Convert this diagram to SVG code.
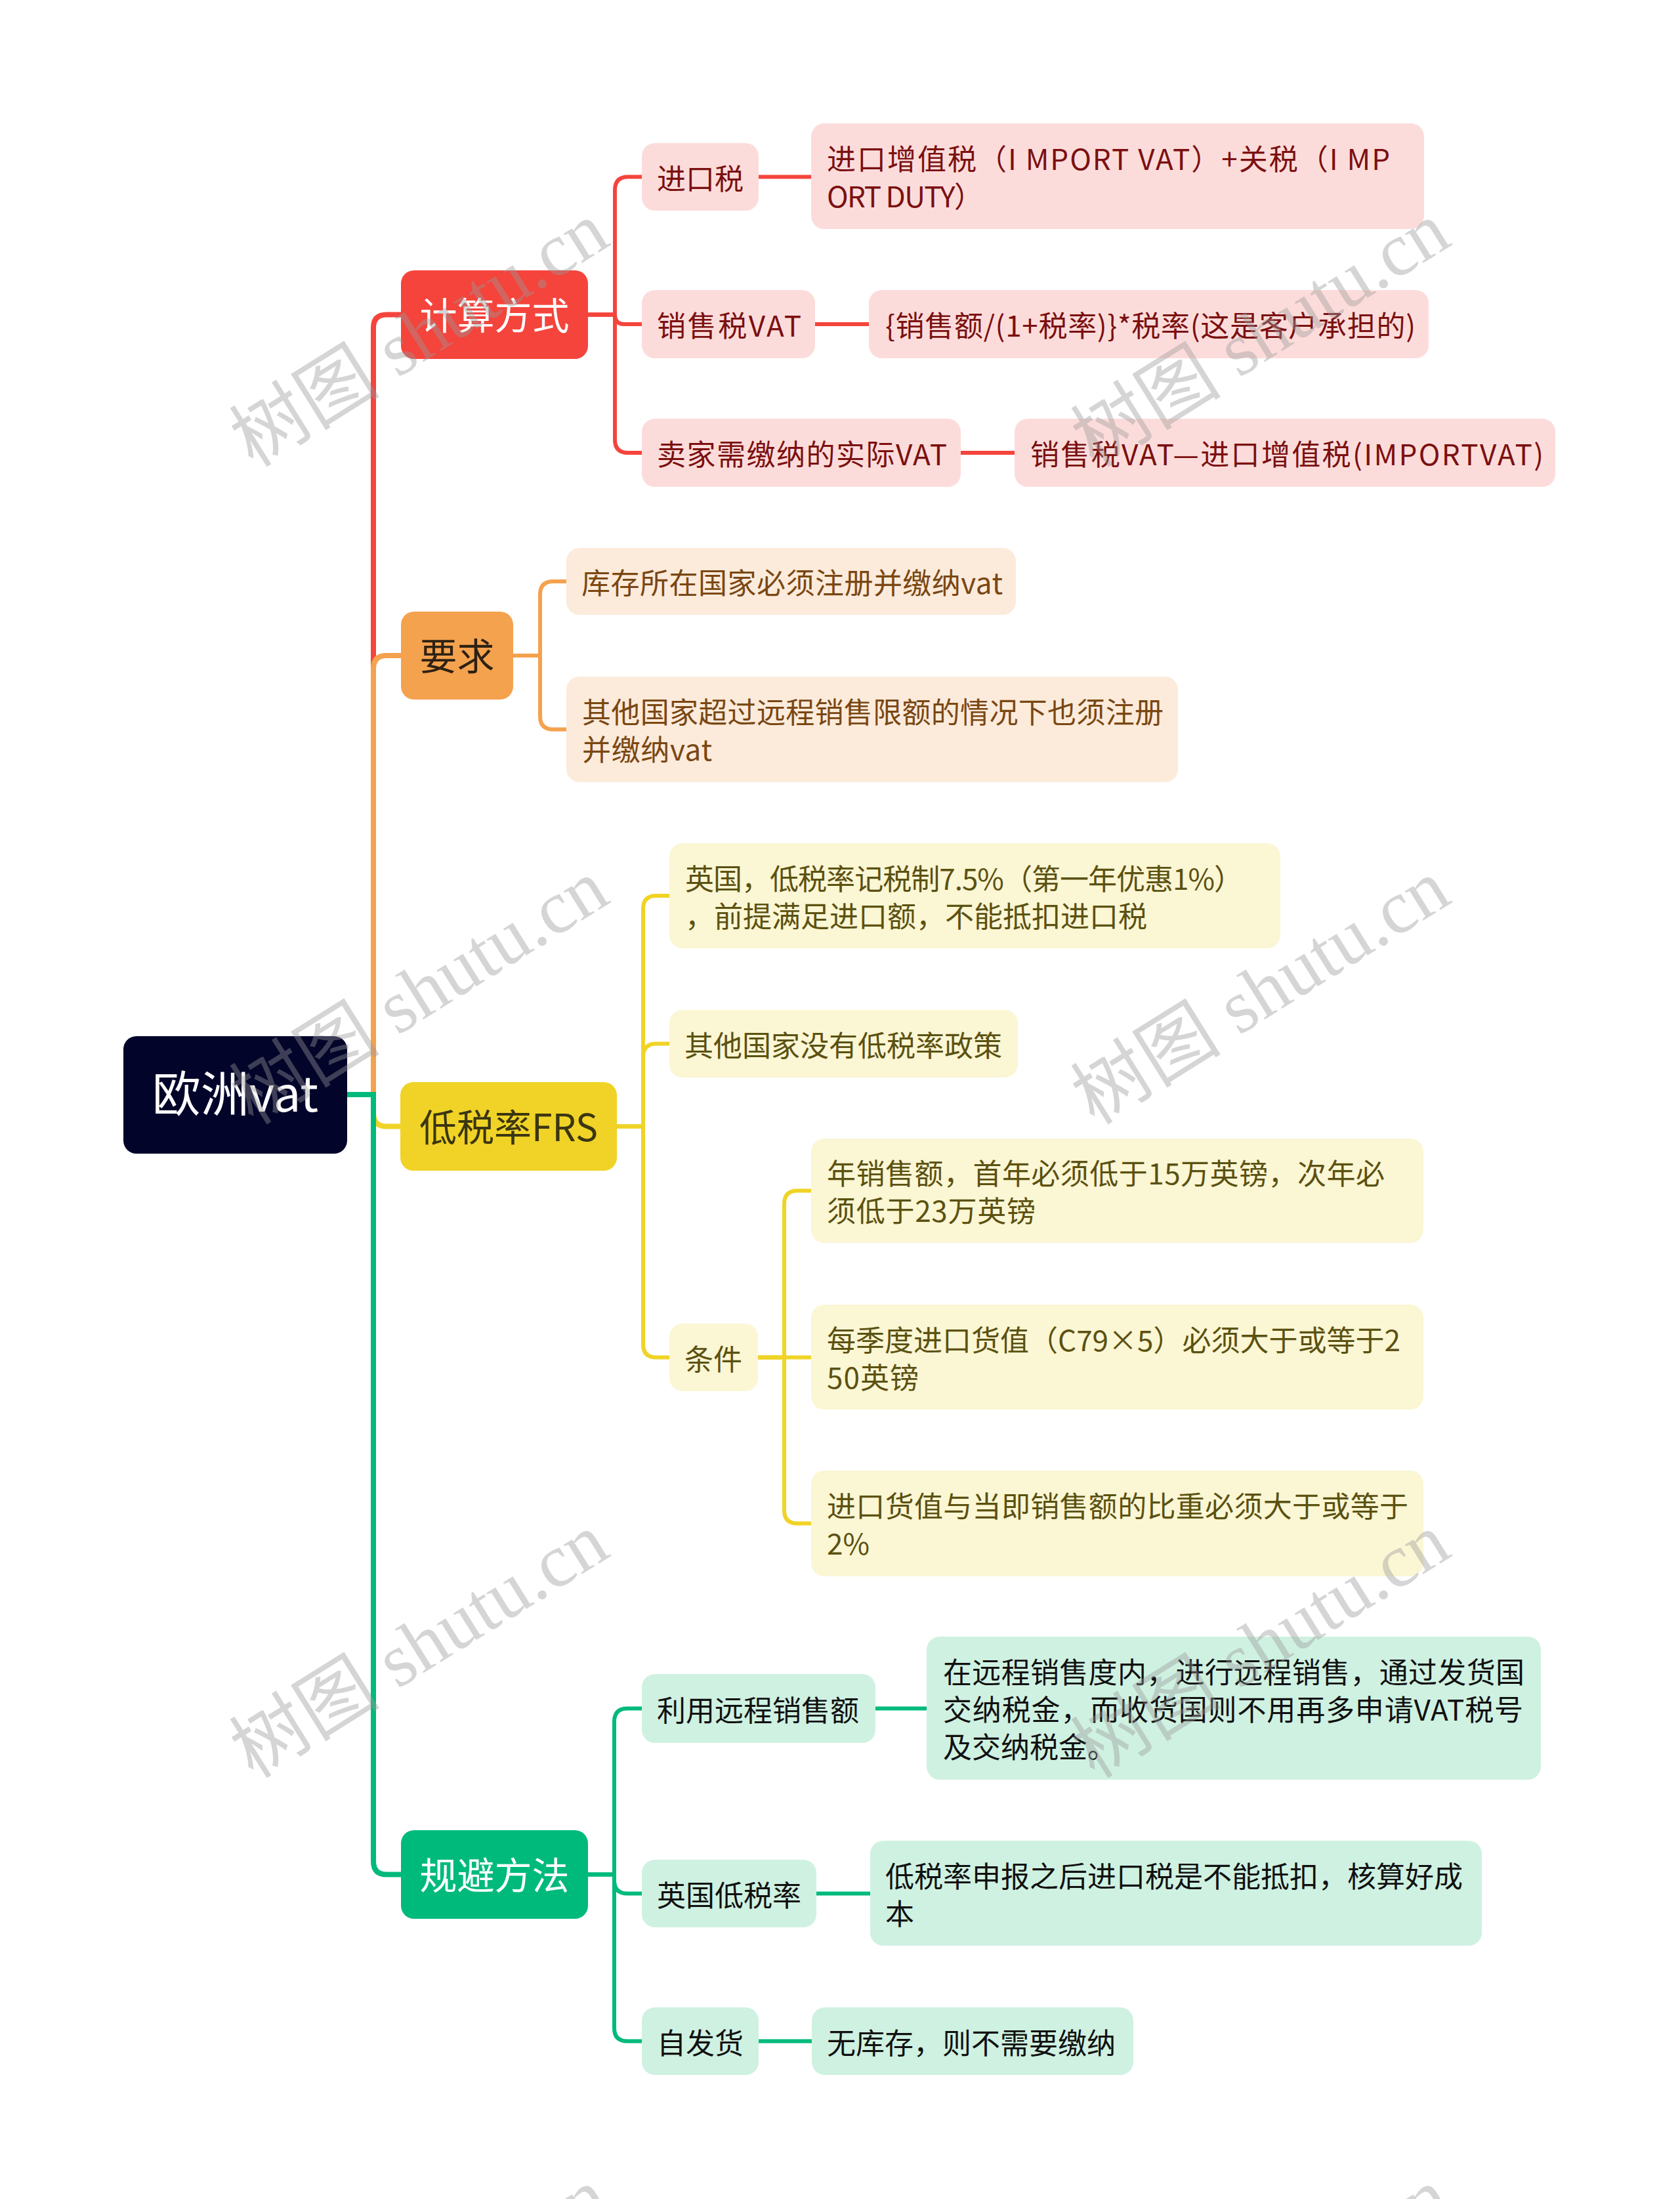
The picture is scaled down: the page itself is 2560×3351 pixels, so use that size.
<svg xmlns="http://www.w3.org/2000/svg" width="2560" height="3351" viewBox="0 0 2560 3351">
<style>
text{font-family:"Noto Sans CJK SC","Noto Sans",sans-serif}
.t0{font-size:74px;fill:#fff;text-anchor:middle}
.t1{font-size:57px;text-anchor:middle}
.t2{font-size:44px}
.cr{fill:none;stroke:#F4443C}
.co{fill:none;stroke:#F4A24E}
.cy{fill:none;stroke:#F0D326}
.cg{fill:none;stroke:#00BA7B}
.root{stroke-width:8}
.br{stroke-width:6}
.rr{fill:#FCDCDB}.rt{fill:#7B1010}
.oo{fill:#FCEBDB}.ot{fill:#7A4713}
.yy{fill:#FBF6D4}.yt{fill:#5B5111}
.gg{fill:#CFF1E2}.gt{fill:#111111}
.wm{font-family:"Liberation Serif","Noto Sans CJK SC",serif;font-size:115px;fill:#999;opacity:.4;text-anchor:middle}
</style>
<rect width="2560" height="3351" fill="#fff"/>
<g id="connectors" stroke-linecap="butt">
<path class="cr root" d="M529 1668 H569 V499.5 Q569 479.5 589 479.5 H611"/>
<path class="co root" d="M529 1668 H569 V1019 Q569 999 589 999 H611"/>
<path class="cy root" d="M529 1668 H569 V1696.5 Q569 1716.5 589 1716.5 H610"/>
<path class="cg root" d="M529 1668 H569 V2836.5 Q569 2856.5 589 2856.5 H611"/>
<path class="cr br" d="M896 479.5 H937 V289.5 Q937 269.5 957 269.5 H978"/>
<path class="cr br" d="M896 479.5 H937 Q937 494 951.5 494 H978"/>
<path class="cr br" d="M896 479.5 H937 V670 Q937 690 957 690 H978"/>
<path class="cr br" d="M1156 269.5 H1236"/>
<path class="cr br" d="M1242 494 H1324"/>
<path class="cr br" d="M1464 690 H1546"/>
<path class="co br" d="M782 999 H823 V906 Q823 886 843 886 H863"/>
<path class="co br" d="M782 999 H823 V1091.5 Q823 1111.5 843 1111.5 H863"/>
<path class="cy br" d="M940 1716.5 H980 V1385 Q980 1365 1000 1365 H1020"/>
<path class="cy br" d="M940 1716.5 H980 V1610.5 Q980 1590.5 1000 1590.5 H1020"/>
<path class="cy br" d="M940 1716.5 H980 V2048.5 Q980 2068.5 1000 2068.5 H1020"/>
<path class="cy br" d="M1155 2068.5 H1195 V1834.5 Q1195 1814.5 1215 1814.5 H1236"/>
<path class="cy br" d="M1155 2068.5 H1236"/>
<path class="cy br" d="M1155 2068.5 H1195 V2301.5 Q1195 2321.5 1215 2321.5 H1236"/>
<path class="cg br" d="M896 2856.5 H936 V2623.5 Q936 2603.5 956 2603.5 H978"/>
<path class="cg br" d="M896 2856.5 H936 V2865.5 Q936 2885.5 956 2885.5 H978"/>
<path class="cg br" d="M896 2856.5 H936 V3090.5 Q936 3110.5 956 3110.5 H978"/>
<path class="cg br" d="M1334 2603.5 H1412"/>
<path class="cg br" d="M1244 2885.5 H1326"/>
<path class="cg br" d="M1156 3110.5 H1237"/>
</g>
<g id="root"><rect x="188" y="1579" width="341" height="179" rx="20" fill="#02042A"/><text class="t0" x="358.5" y="1694">欧洲vat</text></g>
<g id="n1"><rect x="611" y="412" width="285" height="135" rx="20" fill="#F4443C"/><text class="t1" x="753.5" y="501.5" fill="#fff">计算方式</text></g>
<g id="n2"><rect x="611" y="932" width="171" height="134" rx="20" fill="#F4A24E"/><text class="t1" x="696.5" y="1021" fill="#2E2113">要求</text></g>
<g id="n3"><rect x="610" y="1649" width="330" height="135" rx="20" fill="#F0D326"/><text class="t1" x="775" y="1738.5" fill="#3B3612">低税率FRS</text></g>
<g id="n4"><rect x="611" y="2789" width="285" height="135" rx="20" fill="#00BA7B"/><text class="t1" x="753.5" y="2878.5" fill="#fff">规避方法</text></g>

<g id="n1a"><rect class="rr" x="978" y="218" width="178" height="103" rx="20"/><text class="t2 rt" x="1001" y="288.5">进口税</text></g>
<g id="n1a1"><rect class="rr" x="1236" y="188" width="934" height="161" rx="20"/><text class="t2 rt" x="1260" y="259" textLength="858">进口增值税（I MPORT VAT）+关税（I MP</text><text class="t2 rt" x="1260" y="316" textLength="238">ORT DUTY）</text></g>
<g id="n1b"><rect class="rr" x="978" y="442" width="264" height="104" rx="20"/><text class="t2 rt" x="1001" y="513" textLength="220">销售税VAT</text></g>
<g id="n1b1"><rect class="rr" x="1324" y="442" width="853" height="104" rx="20"/><text class="t2 rt" x="1349" y="513" textLength="808">{销售额/(1+税率)}*税率(这是客户承担的)</text></g>
<g id="n1c"><rect class="rr" x="978" y="638" width="486" height="104" rx="20"/><text class="t2 rt" x="1001" y="709" textLength="442">卖家需缴纳的实际VAT</text></g>
<g id="n1c1"><rect class="rr" x="1546" y="638" width="824" height="104" rx="20"/><text class="t2 rt" x="1570" y="709" textLength="782">销售税VAT—进口增值税(IMPORTVAT)</text></g>

<g id="n2a"><rect class="oo" x="863" y="835" width="685" height="102" rx="20"/><text class="t2 ot" x="886" y="905" textLength="642">库存所在国家必须注册并缴纳vat</text></g>
<g id="n2b"><rect class="oo" x="863" y="1031" width="932" height="161" rx="20"/><text class="t2 ot" x="887" y="1102" textLength="886">其他国家超过远程销售限额的情况下也须注册</text><text class="t2 ot" x="887" y="1159" textLength="198">并缴纳vat</text></g>

<g id="n3a"><rect class="yy" x="1020" y="1285" width="931" height="160" rx="20"/><text class="t2 yt" x="1044" y="1355.5" textLength="850">英国，低税率记税制7.5%（第一年优惠1%）</text><text class="t2 yt" x="1044" y="1412.5">，前提满足进口额，不能抵扣进口税</text></g>
<g id="n3b"><rect class="yy" x="1020" y="1539" width="531" height="103" rx="20"/><text class="t2 yt" x="1043" y="1609.5">其他国家没有低税率政策</text></g>
<g id="n3c"><rect class="yy" x="1020" y="2017" width="135" height="103" rx="20"/><text class="t2 yt" x="1043" y="2087.5">条件</text></g>
<g id="n3c1"><rect class="yy" x="1236" y="1735" width="933" height="159" rx="20"/><text class="t2 yt" x="1260" y="1805" textLength="850">年销售额，首年必须低于15万英镑，次年必</text><text class="t2 yt" x="1260" y="1862" textLength="318">须低于23万英镑</text></g>
<g id="n3c2"><rect class="yy" x="1236" y="1988" width="933" height="160" rx="20"/><text class="t2 yt" x="1260" y="2058.5" textLength="874">每季度进口货值（C79×5）必须大于或等于2</text><text class="t2 yt" x="1260" y="2115.5" textLength="140">50英镑</text></g>
<g id="n3c3"><rect class="yy" x="1236" y="2241" width="933" height="161" rx="20"/><text class="t2 yt" x="1260" y="2312" textLength="886">进口货值与当即销售额的比重必须大于或等于</text><text class="t2 yt" x="1260" y="2369" textLength="65">2%</text></g>

<g id="n4a"><rect class="gg" x="978" y="2551" width="356" height="105" rx="20"/><text class="t2 gt" x="1001" y="2622.5">利用远程销售额</text></g>
<g id="n4a1"><rect class="gg" x="1412" y="2494" width="936" height="218" rx="20"/><text class="t2 gt" x="1437" y="2565" textLength="886">在远程销售度内，进行远程销售，通过发货国</text><text class="t2 gt" x="1437" y="2622" textLength="884">交纳税金，而收货国则不用再多申请VAT税号</text><text class="t2 gt" x="1437" y="2679">及交纳税金。</text></g>
<g id="n4b"><rect class="gg" x="978" y="2834" width="266" height="103" rx="20"/><text class="t2 gt" x="1001" y="2904.5">英国低税率</text></g>
<g id="n4b1"><rect class="gg" x="1326" y="2805" width="932" height="160" rx="20"/><text class="t2 gt" x="1349" y="2875.5">低税率申报之后进口税是不能抵扣，核算好成</text><text class="t2 gt" x="1349" y="2932.5">本</text></g>
<g id="n4c"><rect class="gg" x="978" y="3059" width="178" height="103" rx="20"/><text class="t2 gt" x="1001" y="3129.5">自发货</text></g>
<g id="n4c1"><rect class="gg" x="1237" y="3059" width="490" height="103" rx="20"/><text class="t2 gt" x="1260" y="3129.5">无库存，则不需要缴纳</text></g>

<g id="watermarks">
<text class="wm" transform="rotate(-32 641 513)" x="641" y="548">树图 shutu.cn</text>
<text class="wm" transform="rotate(-32 1923 513)" x="1923" y="548">树图 shutu.cn</text>
<text class="wm" transform="rotate(-32 641 1515)" x="641" y="1550">树图 shutu.cn</text>
<text class="wm" transform="rotate(-32 1923 1515)" x="1923" y="1550">树图 shutu.cn</text>
<text class="wm" transform="rotate(-32 641 2511)" x="641" y="2546">树图 shutu.cn</text>
<text class="wm" transform="rotate(-32 1923 2511)" x="1923" y="2546">树图 shutu.cn</text>
<text class="wm" transform="rotate(-32 641 3509)" x="641" y="3544">树图 shutu.cn</text>
<text class="wm" transform="rotate(-32 1923 3509)" x="1923" y="3544">树图 shutu.cn</text>
</g>
</svg>
